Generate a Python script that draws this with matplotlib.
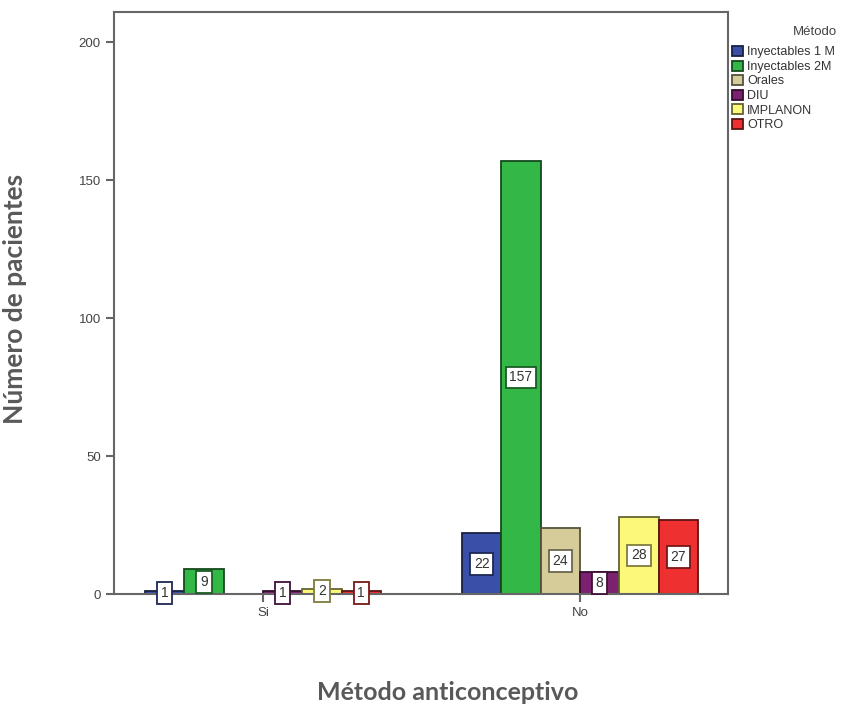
import matplotlib.pyplot as plt
import matplotlib.colors as mcolors
import numpy as np

grupos = ['Si', 'No']
metodos = ['Inyectables 1 M', 'Inyectables 2M', 'Orales', 'DIU', 'IMPLANON', 'OTRO']
colores = ['#3a50a8', '#33b848', '#d6cc9a', '#7b2170', '#fbf87a', '#ee3030']
valores = {
    'Inyectables 1 M': [1, 22],
    'Inyectables 2M': [9, 157],
    'Orales': [0, 24],
    'DIU': [1, 8],
    'IMPLANON': [2, 28],
    'OTRO': [1, 27],
}
yticks = [0, 50, 100, 150, 200]


def oscuro(c, f=0.4):
    r, g, b = mcolors.to_rgb(c)
    return (r * f, g * f, b * f)


fig = plt.figure(figsize=(8.68, 7.06), dpi=100)
ax = fig.add_axes([0.1313, 0.1586, 0.7074, 0.8244])

x = np.arange(len(grupos))
ancho = 0.124
n = len(metodos)
for i, (m, c) in enumerate(zip(metodos, colores)):
    pos = x + (i - (n - 1) / 2) * ancho
    vals = valores[m]
    ax.bar(pos, vals, width=ancho, color=c, edgecolor=oscuro(c), linewidth=1.3, label=m, zorder=2)
    for p, v in zip(pos, vals):
        if v == 0:
            continue
        ax.text(p, v / 2, str(v), ha='center', va='center', fontsize=10, color='#333333',
                family='Liberation Sans', zorder=3,
                bbox=dict(boxstyle='square,pad=0.28', fc='white', ec=oscuro(c, 0.5), lw=1.3))

ax.set_xlim(-0.47, 1.467)
ax.set_ylim(0, 211)
ax.set_xticks(x)
ax.set_xticklabels(grupos)
ax.set_yticks(yticks)
for s in ax.spines.values():
    s.set_color('#666666')
    s.set_linewidth(1.5)
ax.tick_params(axis='both', colors='#666666', labelcolor='#444444', labelsize=9.5, length=6, width=1.5)
for t in ax.get_xticklabels() + ax.get_yticklabels():
    t.set_family('Liberation Sans')

fig.text(15 / 868, 1 - 299 / 706, 'Número de pacientes', rotation=90, ha='center', va='center',
         fontsize=19, fontweight='bold', color='#595959', family='Lato')
fig.text(448 / 868, 1 - 692 / 706, 'Método anticonceptivo', ha='center', va='center',
         fontsize=18, fontweight='bold', color='#595959', family='Lato')

fig.text(815 / 868, 1 - 32 / 706, 'Método', ha='center', va='center', fontsize=9.5,
         color='#444444', family='Liberation Sans')
leg = fig.legend(loc='upper left', bbox_to_anchor=(0.843, 1 - 46 / 706), frameon=False,
                 handlelength=0.9, handleheight=0.9, handletextpad=0.35,
                 labelspacing=0.16, borderpad=0, borderaxespad=0,
                 prop={'family': 'Liberation Sans', 'size': 9})
for t in leg.get_texts():
    t.set_color('#333333')

fig.savefig('out.png', dpi=100)
